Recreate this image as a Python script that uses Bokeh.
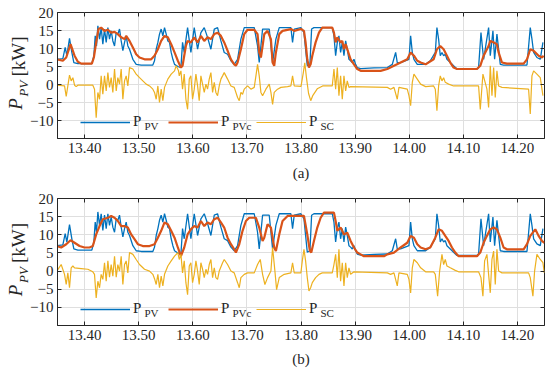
from bokeh.plotting import figure
from bokeh.models import (Range1d, FixedTicker, LinearAxis, Legend, LegendItem, Label,
                          CustomJSTickFormatter, PrintfTickFormatter)
from bokeh.core.properties import value
from bokeh.layouts import column
from bokeh.embed import file_html
from bokeh.resources import INLINE

# ---------------- data ----------------
X_TICKS = [13.40, 13.50, 13.60, 13.70, 13.80, 13.90, 14.00, 14.10, 14.20]
Y_TICKS = [-10, -5, 0, 5, 10, 15, 20]
X_RANGE = (13.35, 14.25)
Y_RANGE = (-15, 20)
SERIES_NAMES = ["P", "P", "P"]
SERIES_SUBS = ["PV", "PVc", "SC"]
PANEL_TAGS = ["(a)", "(b)"]
Y_TITLE = ("P", "PV", "[kW]")

# PV power (same measured profile in both panels): (time, kW)
PV = [(13.3488, 7.0), (13.3599, 7.2), (13.3642, 10.3), (13.3673, 8.0), (13.3722, 12.8), (13.3765, 8.9),
      (13.3802, 6.1), (13.3876, 5.8), (13.4135, 5.8), (13.4172, 8.0), (13.4197, 13.5), (13.4221, 10.7),
      (13.4246, 16.3), (13.4277, 12.6), (13.4307, 15.8), (13.4338, 11.2), (13.4369, 15.4), (13.4400, 11.7),
      (13.4431, 15.8), (13.4461, 12.6), (13.4492, 14.9), (13.4523, 12.1), (13.4554, 10.7), (13.4585, 14.4),
      (13.4615, 14.0), (13.4646, 15.4), (13.4677, 12.1), (13.4708, 9.4), (13.4739, 11.7), (13.4769, 13.5),
      (13.4800, 10.7), (13.4831, 9.8), (13.4893, 7.0), (13.4954, 5.6), (13.5047, 5.4), (13.5262, 5.4),
      (13.5293, 6.6), (13.5324, 9.8), (13.5355, 11.7), (13.5385, 14.0), (13.5416, 15.4), (13.5447, 13.5),
      (13.5478, 15.8), (13.5509, 14.0), (13.5539, 12.1), (13.5570, 11.7), (13.5601, 8.9), (13.5632, 7.0),
      (13.5663, 5.6), (13.5724, 5.0), (13.5781, 4.7), (13.5811, 11.7), (13.5842, 8.9), (13.5904, 15.8),
      (13.5965, 8.9), (13.6027, 15.8), (13.6089, 9.8), (13.6150, 14.4), (13.6212, 15.8), (13.6273, 13.1),
      (13.6335, 9.8), (13.6397, 15.4), (13.6458, 15.8), (13.6520, 12.1), (13.6581, 8.9), (13.6643, 8.4),
      (13.6705, 6.6), (13.6766, 5.6), (13.6828, 7.0), (13.6889, 12.6), (13.6951, 15.8), (13.7136, 15.8),
      (13.7197, 10.7), (13.7228, 6.1), (13.7290, 15.4), (13.7413, 15.4), (13.7475, 6.1), (13.7536, 12.6),
      (13.7598, 15.8), (13.7813, 15.8), (13.7844, 11.7), (13.7875, 15.4), (13.7998, 15.8), (13.8055, 14.4),
      (13.8085, 9.8), (13.8116, 5.2), (13.8165, 5.6), (13.8196, 15.4), (13.8239, 15.8), (13.8578, 15.8),
      (13.8609, 13.5), (13.8640, 8.0), (13.8671, 11.7), (13.8701, 13.5), (13.8732, 8.9), (13.8763, 11.7),
      (13.8794, 8.0), (13.8825, 12.1), (13.8855, 9.8), (13.8886, 7.0), (13.8917, 6.6), (13.8948, 6.1),
      (13.8979, 7.0), (13.9009, 5.6), (13.9040, 4.7), (13.9102, 4.4), (13.9350, 4.6), (13.9595, 4.7),
      (13.9687, 5.6), (13.9749, 8.9), (13.9779, 6.1), (13.9841, 6.1), (13.9995, 7.0), (14.0026, 13.5),
      (14.0057, 8.9), (14.0087, 7.0), (14.0149, 5.6), (14.0303, 5.6), (14.0389, 6.6), (14.0482, 8.9),
      (14.0512, 15.8), (14.0543, 12.6), (14.0574, 8.0), (14.0605, 8.9), (14.0636, 8.0), (14.0666, 8.4),
      (14.0697, 7.0), (14.0759, 6.1), (14.0820, 5.2), (14.0882, 4.3), (14.1252, 4.3), (14.1282, 4.7),
      (14.1326, 14.4), (14.1375, 7.0), (14.1467, 15.8), (14.1498, 8.0), (14.1547, 14.9), (14.1578, 7.0),
      (14.1621, 14.0), (14.1683, 5.6), (14.1744, 5.4), (14.2176, 5.4), (14.2237, 15.8), (14.2268, 12.6),
      (14.2299, 8.9), (14.2360, 7.5), (14.2422, 7.0), (14.2471, 11.7)]

# compensated PV power, panel (a)
PVC_A = [(13.3488, 7.0), (13.3599, 6.6), (13.3661, 7.5), (13.3741, 11.2), (13.3815, 8.0), (13.3876, 6.3),
         (13.3938, 5.8), (13.4135, 5.8), (13.4172, 7.5), (13.4215, 11.7), (13.4258, 15.4), (13.4307, 15.8),
         (13.4369, 14.9), (13.4431, 15.2), (13.4492, 14.4), (13.4554, 14.6), (13.4615, 14.0), (13.4677, 13.1),
         (13.4739, 12.6), (13.4769, 13.5), (13.4831, 12.1), (13.4893, 10.3), (13.4954, 8.4), (13.5016, 7.5),
         (13.5108, 7.0), (13.5231, 7.0), (13.5293, 8.0), (13.5355, 9.8), (13.5416, 12.1), (13.5478, 13.5),
         (13.5539, 13.1), (13.5601, 11.2), (13.5663, 8.9), (13.5724, 6.6), (13.5781, 4.7), (13.5811, 5.2),
         (13.5842, 8.0), (13.5873, 10.7), (13.5904, 12.1), (13.5965, 11.7), (13.6027, 13.1), (13.6089, 11.7),
         (13.6150, 13.5), (13.6212, 12.1), (13.6273, 13.1), (13.6335, 12.6), (13.6397, 14.0), (13.6458, 14.4),
         (13.6520, 13.5), (13.6581, 11.7), (13.6643, 9.4), (13.6705, 7.0), (13.6766, 5.6), (13.6797, 5.2),
         (13.6828, 6.1), (13.6889, 9.8), (13.6951, 14.0), (13.7013, 15.2), (13.7136, 15.2), (13.7197, 14.0),
         (13.7228, 8.9), (13.7259, 7.5), (13.7290, 10.7), (13.7321, 14.0), (13.7382, 14.9), (13.7444, 12.6),
         (13.7475, 6.1), (13.7505, 5.2), (13.7536, 8.9), (13.7598, 14.0), (13.7659, 14.9), (13.7813, 15.4),
         (13.7875, 14.9), (13.7998, 15.4), (13.8055, 14.9), (13.8085, 11.7), (13.8116, 7.0), (13.8147, 4.7),
         (13.8178, 5.6), (13.8209, 8.0), (13.8270, 11.7), (13.8332, 14.4), (13.8393, 15.8), (13.8578, 15.8),
         (13.8609, 14.4), (13.8640, 11.7), (13.8671, 13.1), (13.8732, 11.7), (13.8763, 12.1), (13.8794, 9.8),
         (13.8825, 11.2), (13.8855, 9.8), (13.8886, 8.4), (13.8917, 7.0), (13.8979, 5.6), (13.9040, 4.3),
         (13.9102, 3.8), (13.9471, 3.8), (13.9595, 4.3), (13.9718, 5.2), (13.9841, 6.1), (13.9964, 7.0),
         (14.0026, 8.9), (14.0087, 8.0), (14.0149, 6.6), (14.0211, 6.1), (14.0303, 5.6), (14.0451, 7.0),
         (14.0512, 9.8), (14.0574, 10.7), (14.0636, 9.8), (14.0697, 8.0), (14.0759, 6.1), (14.0820, 4.7),
         (14.0882, 4.3), (14.1252, 4.3), (14.1313, 5.2), (14.1375, 8.0), (14.1467, 10.7), (14.1498, 12.1),
         (14.1560, 11.7), (14.1621, 11.2), (14.1652, 8.9), (14.1714, 6.1), (14.1806, 5.8), (14.2114, 5.8),
         (14.2176, 7.0), (14.2237, 9.8), (14.2299, 9.4), (14.2391, 8.0), (14.2453, 7.5), (14.2484, 8.0)]

# supercapacitor power, panel (a)
SC_A = [(13.3488, -0.2), (13.3630, -0.4), (13.3661, -3.3), (13.3691, -0.4), (13.3722, 2.6), (13.3753, 1.0),
        (13.3784, 1.9), (13.3815, -0.2), (13.3845, -0.6), (13.3876, -0.2), (13.4153, -0.2), (13.4184, -1.3),
        (13.4215, -9.2), (13.4246, -2.2), (13.4277, -4.1), (13.4307, 2.4), (13.4338, -2.7), (13.4369, 2.4),
        (13.4400, -1.8), (13.4431, 3.3), (13.4461, -0.8), (13.4492, 1.9), (13.4523, -2.2), (13.4554, 4.3),
        (13.4585, -1.8), (13.4615, 1.9), (13.4646, 0.1), (13.4677, 4.3), (13.4708, -4.1), (13.4739, 1.0),
        (13.4769, 2.4), (13.4800, -0.4), (13.4831, 4.7), (13.4893, 4.3), (13.4954, 2.9), (13.5016, 1.9),
        (13.5077, 1.0), (13.5139, 0.1), (13.5201, -0.4), (13.5262, -1.3), (13.5293, -2.2), (13.5324, -4.1),
        (13.5355, -0.4), (13.5385, -5.0), (13.5416, -1.3), (13.5447, -4.5), (13.5478, -0.8), (13.5539, 1.5),
        (13.5601, 2.9), (13.5663, 3.8), (13.5693, 5.2), (13.5737, 3.8), (13.5750, 2.4), (13.5781, 3.8),
        (13.5811, -1.3), (13.5842, 2.9), (13.5873, -4.1), (13.5904, -6.9), (13.5935, 1.5), (13.5965, 2.4),
        (13.5996, -4.1), (13.6027, -1.3), (13.6058, 2.9), (13.6089, -0.4), (13.6119, -4.5), (13.6150, 2.4),
        (13.6181, 0.1), (13.6212, -2.2), (13.6243, 0.1), (13.6273, -1.3), (13.6304, 1.5), (13.6335, 3.3),
        (13.6366, -2.2), (13.6397, 0.6), (13.6427, -2.2), (13.6458, -3.1), (13.6489, -0.4), (13.6520, 1.5),
        (13.6551, 2.4), (13.6581, 3.3), (13.6643, 1.5), (13.6705, -0.4), (13.6766, -0.8), (13.6828, -3.6),
        (13.6859, -4.5), (13.6889, -2.2), (13.6920, -2.7), (13.6951, -1.3), (13.7013, -0.4), (13.7074, -1.3),
        (13.7136, -0.8), (13.7167, 2.4), (13.7197, 5.6), (13.7228, 2.4), (13.7259, -2.2), (13.7290, -3.1),
        (13.7351, -1.3), (13.7413, 0.1), (13.7444, -2.2), (13.7475, -5.5), (13.7505, -2.2), (13.7567, -1.3),
        (13.7629, -0.8), (13.7752, -0.6), (13.7813, -0.4), (13.7844, 2.4), (13.7875, -0.4), (13.8000, -0.5),
        (13.8040, 3.0), (13.8070, 6.0), (13.8100, 2.0), (13.8140, -2.5), (13.8180, -4.5), (13.8220, -3.0),
        (13.8300, -1.2), (13.8400, -0.4), (13.8578, -0.4), (13.8609, 4.3), (13.8640, -1.3), (13.8671, 4.7),
        (13.8701, -3.1), (13.8732, 2.4), (13.8763, -4.1), (13.8794, 2.4), (13.8825, -1.8), (13.8855, 1.0),
        (13.8886, -0.8), (13.8917, -0.6), (13.9595, -0.8), (13.9656, -1.3), (13.9718, -0.8), (13.9779, -4.1),
        (13.9810, -0.8), (13.9964, -1.3), (13.9995, -3.1), (14.0026, -5.9), (14.0057, 0.6), (14.0087, 2.9),
        (14.0149, 1.5), (14.0211, 0.1), (14.0303, -0.6), (14.0451, -0.4), (14.0482, -1.3), (14.0512, -7.3),
        (14.0543, -0.4), (14.0574, 2.4), (14.0605, 1.0), (14.0636, 1.9), (14.0666, 0.6), (14.0728, 0.1),
        (14.0820, -0.4), (14.1282, -0.4), (14.1313, -6.9), (14.1362, 2.9), (14.1436, -1.3), (14.1467, -6.4),
        (14.1498, 5.2), (14.1529, -3.1), (14.1560, 4.7), (14.1590, -3.6), (14.1621, 3.8), (14.1652, -0.4),
        (14.1714, -0.8), (14.2206, -1.3), (14.2237, -8.2), (14.2268, 2.4), (14.2299, 3.8), (14.2360, 2.9),
        (14.2422, 1.9), (14.2471, -3.1)]

# compensated PV power, panel (b)
PVC_B = [(13.3488, 6.9), (13.3568, 6.5), (13.3661, 7.4), (13.3741, 8.5), (13.3815, 7.8), (13.3907, 6.9),
         (13.3999, 6.5), (13.4092, 6.5), (13.4153, 6.9), (13.4215, 10.1), (13.4277, 12.4), (13.4338, 14.3),
         (13.4431, 14.7), (13.4492, 15.2), (13.4554, 14.7), (13.4615, 13.8), (13.4677, 12.4), (13.4739, 12.4),
         (13.4800, 12.0), (13.4862, 10.1), (13.4923, 8.8), (13.4985, 7.4), (13.5077, 6.9), (13.5201, 6.9),
         (13.5293, 7.4), (13.5355, 9.2), (13.5416, 11.1), (13.5478, 13.4), (13.5539, 12.9), (13.5601, 11.1),
         (13.5663, 9.2), (13.5724, 6.5), (13.5781, 4.1), (13.5842, 6.5), (13.5904, 10.1), (13.5965, 11.5),
         (13.6027, 12.4), (13.6089, 12.0), (13.6150, 13.8), (13.6212, 12.4), (13.6273, 13.4), (13.6335, 12.9),
         (13.6397, 14.3), (13.6458, 14.7), (13.6520, 13.4), (13.6581, 12.0), (13.6643, 9.2), (13.6705, 7.4),
         (13.6766, 6.0), (13.6797, 5.1), (13.6859, 7.4), (13.6920, 11.1), (13.6982, 13.8), (13.7043, 14.7),
         (13.7167, 14.7), (13.7228, 12.0), (13.7290, 8.3), (13.7321, 9.2), (13.7382, 12.9), (13.7444, 12.0),
         (13.7505, 6.5), (13.7536, 5.5), (13.7598, 10.1), (13.7659, 13.8), (13.7752, 15.2), (13.7998, 15.2),
         (13.8055, 15.2), (13.8116, 10.1), (13.8165, 5.5), (13.8190, 5.1), (13.8239, 8.3), (13.8301, 12.0),
         (13.8363, 14.7), (13.8424, 16.1), (13.8609, 16.1), (13.8640, 13.8), (13.8671, 11.1), (13.8732, 12.0),
         (13.8794, 10.1), (13.8855, 10.6), (13.8917, 8.3), (13.8979, 6.5), (13.9040, 5.1), (13.9102, 4.6),
         (13.9163, 4.1), (13.9533, 4.1), (13.9595, 4.6), (13.9718, 5.1), (13.9841, 6.5), (13.9964, 7.8),
         (14.0026, 9.7), (14.0087, 9.2), (14.0149, 7.4), (14.0211, 6.5), (14.0303, 6.0), (14.0389, 6.5),
         (14.0482, 9.2), (14.0543, 11.5), (14.0605, 11.1), (14.0666, 9.7), (14.0728, 8.3), (14.0790, 6.5),
         (14.0851, 5.1), (14.0913, 4.1), (14.1252, 4.1), (14.1313, 5.1), (14.1375, 7.8), (14.1436, 9.7),
         (14.1498, 11.5), (14.1560, 12.0), (14.1621, 11.5), (14.1683, 9.2), (14.1744, 6.5), (14.1806, 6.0),
         (14.2114, 6.0), (14.2176, 7.4), (14.2237, 9.7), (14.2330, 11.5), (14.2391, 9.7), (14.2453, 8.3),
         (14.2496, 7.8)]

# supercapacitor power, panel (b)
SC_B = [(13.3488, 0.0), (13.3568, 1.8), (13.3630, -0.9), (13.3661, -3.7), (13.3691, -0.5), (13.3722, -4.6),
        (13.3753, 0.9), (13.3784, 1.4), (13.3815, 0.9), (13.3938, 0.7), (13.4061, 0.5), (13.4153, -0.2),
        (13.4184, -0.9), (13.4215, -7.4), (13.4246, -2.8), (13.4277, -4.6), (13.4307, -0.9), (13.4338, -2.3),
        (13.4369, 2.3), (13.4400, -2.8), (13.4431, 2.8), (13.4461, -1.7), (13.4492, 1.8), (13.4523, -1.4),
        (13.4554, 4.1), (13.4585, -1.7), (13.4615, 1.8), (13.4646, 0.0), (13.4677, 4.1), (13.4708, -3.7),
        (13.4739, 1.8), (13.4769, 2.8), (13.4800, -0.5), (13.4831, 5.1), (13.4893, 4.6), (13.4954, 3.2),
        (13.5016, 1.8), (13.5108, 0.5), (13.5201, 0.0), (13.5262, -0.9), (13.5293, -2.1), (13.5324, -3.7),
        (13.5355, -0.9), (13.5385, -4.6), (13.5416, -1.4), (13.5447, -4.1), (13.5478, -0.9), (13.5539, 1.4),
        (13.5601, 2.8), (13.5663, 4.1), (13.5724, 5.1), (13.5750, 3.2), (13.5781, 4.6), (13.5811, -0.5),
        (13.5842, 2.8), (13.5873, -3.2), (13.5904, -6.5), (13.5935, 1.4), (13.5965, 2.3), (13.5996, -3.2),
        (13.6027, -0.9), (13.6058, 2.8), (13.6089, 0.0), (13.6119, -3.7), (13.6150, 2.3), (13.6181, 0.5),
        (13.6212, -1.8), (13.6243, 0.5), (13.6273, -0.9), (13.6304, 1.8), (13.6335, 3.2), (13.6366, -1.8),
        (13.6397, 0.9), (13.6427, -1.8), (13.6458, -2.3), (13.6489, 0.0), (13.6551, 2.3), (13.6581, 3.2),
        (13.6643, 1.8), (13.6705, 0.0), (13.6766, -0.5), (13.6828, -3.2), (13.6859, -4.6), (13.6889, -1.8),
        (13.6951, -0.9), (13.7013, -0.5), (13.7136, -0.5), (13.7197, 1.8), (13.7247, 3.2), (13.7290, -0.9),
        (13.7333, -3.7), (13.7382, -1.8), (13.7444, 0.0), (13.7475, 6.5), (13.7518, 0.0), (13.7549, -5.1),
        (13.7598, -1.8), (13.7690, -0.9), (13.7813, -0.5), (13.7844, 2.3), (13.7875, -0.5), (13.7998, -0.5),
        (13.8024, 2.8), (13.8055, 6.0), (13.8085, 2.8), (13.8116, -1.8), (13.8147, -5.5), (13.8178, -4.6),
        (13.8209, -3.2), (13.8270, -1.8), (13.8332, -0.9), (13.8393, -0.5), (13.8578, -0.5), (13.8609, 1.8),
        (13.8640, 4.6), (13.8671, -1.8), (13.8701, 6.0), (13.8732, -2.8), (13.8763, 2.3), (13.8794, -4.1),
        (13.8825, 2.3), (13.8855, -1.8), (13.8886, 0.9), (13.8917, -0.9), (13.8979, -0.2), (13.9595, -0.5),
        (13.9656, -0.9), (13.9718, -0.5), (13.9779, -4.1), (13.9810, -0.5), (13.9964, -0.9), (13.9995, -2.3),
        (14.0026, -6.0), (14.0057, 0.9), (14.0087, 3.2), (14.0149, 2.3), (14.0211, 0.9), (14.0303, -0.2),
        (14.0451, -0.2), (14.0482, -0.9), (14.0525, -6.9), (14.0562, 0.0), (14.0605, 4.6), (14.0636, 1.8),
        (14.0666, 3.2), (14.0697, 1.4), (14.0759, 0.9), (14.0851, 0.2), (14.0913, -0.2), (14.1282, -0.2),
        (14.1326, -1.8), (14.1362, -6.9), (14.1393, 2.8), (14.1436, 4.6), (14.1467, -0.9), (14.1498, -6.0),
        (14.1529, 3.2), (14.1560, 5.5), (14.1590, -3.7), (14.1621, 6.0), (14.1652, 0.0), (14.1714, -0.5),
        (14.2206, -0.5), (14.2237, -1.8), (14.2286, -6.9), (14.2317, 0.0), (14.2360, 4.6), (14.2422, 3.2),
        (14.2471, 2.3), (14.2496, -0.5)]

# ---------------- styling ----------------
FONT = "Liberation Serif"
DARK = "#262626"
GRID = "#dfdfdf"
BLUE = "#0072BD"
ORANGE = "#D95319"
YELLOW = "#EDB120"
EM = "\u2003"   # em space, used to slide parts of the axis title along the axis
FIG_W = 550
FRAME_TOP = 12


def style_axis(ax, ticker, labels=True):
    ax.ticker = FixedTicker(ticks=ticker)
    ax.major_tick_in = 4
    ax.major_tick_out = 0
    ax.minor_tick_in = 0
    ax.minor_tick_out = 0
    ax.major_tick_line_color = DARK
    ax.axis_line_color = DARK
    if labels:
        ax.major_label_text_font = FONT
        ax.major_label_text_font_size = "15px"
        ax.major_label_text_color = DARK
        ax.major_label_standoff = 4
    else:
        ax.formatter = CustomJSTickFormatter(code="return ''")
        ax.major_label_text_font_size = "0px"
        ax.major_label_standoff = 0


def title_axis(text, size, style, standoff):
    """An extra left axis that shows only its (rotated) axis label."""
    ax = LinearAxis(ticker=FixedTicker(ticks=[]), axis_line_color=None,
                    major_tick_line_color=None, minor_tick_line_color=None,
                    major_tick_in=0, major_tick_out=0, minor_tick_in=0, minor_tick_out=0,
                    major_label_standoff=0, major_label_text_font_size="0px",
                    formatter=CustomJSTickFormatter(code="return ''"))
    ax.axis_label = text
    ax.axis_label_text_font = FONT
    ax.axis_label_text_font_size = size
    ax.axis_label_text_font_style = style
    ax.axis_label_text_color = DARK
    ax.axis_label_standoff = standoff
    return ax


def panel(pvc, sc, tag, height, bottom, tag_standoff):
    p = figure(width=FIG_W, height=height, output_backend="svg", toolbar_location=None,
               x_range=Range1d(*X_RANGE), y_range=Range1d(*Y_RANGE),
               min_border_left=57, min_border_right=6, min_border_top=FRAME_TOP,
               min_border_bottom=bottom,
               background_fill_color="white", border_fill_color="white")
    p.outline_line_color = DARK
    p.outline_line_width = 1

    r_pv = p.line([t for t, _ in PV], [v for _, v in PV], color=BLUE, line_width=1.3)
    r_pvc = p.line([t for t, _ in pvc], [v for _, v in pvc], color=ORANGE, line_width=2.2)
    r_sc = p.line([t for t, _ in sc], [v for _, v in sc], color=YELLOW, line_width=1.2)

    style_axis(p.xaxis[0], X_TICKS)
    p.xaxis[0].formatter = PrintfTickFormatter(format="%.2f")
    p.xaxis[0].axis_label = tag
    p.xaxis[0].axis_label_text_font = FONT
    p.xaxis[0].axis_label_text_font_size = "15px"
    p.xaxis[0].axis_label_text_font_style = "normal"
    p.xaxis[0].axis_label_text_color = DARK
    p.xaxis[0].axis_label_standoff = tag_standoff
    style_axis(p.yaxis[0], Y_TICKS)
    p.yaxis[0].major_label_overrides = {t: ("\u2212" + str(abs(t)) if t < 0 else str(t)) for t in Y_TICKS}

    # rotated y title  P_PV [kW], built from three label-only axes
    p.add_layout(title_axis(Y_TITLE[0] + EM * 3, "19px", "italic", 2), "left")
    p.add_layout(title_axis(EM * 2 + Y_TITLE[2], "19px", "normal", -27), "left")
    p.add_layout(title_axis(Y_TITLE[1] + EM * 2, "13px", "italic", -29), "left")

    ax_r = LinearAxis()
    style_axis(ax_r, Y_TICKS, labels=False)
    ax_r.axis_line_color = None
    p.add_layout(ax_r, "right")
    ax_t = LinearAxis()
    style_axis(ax_t, X_TICKS, labels=False)
    ax_t.axis_line_color = None
    p.add_layout(ax_t, "above")

    p.xgrid.ticker = FixedTicker(ticks=X_TICKS)
    p.ygrid.ticker = FixedTicker(ticks=Y_TICKS)
    for g in (p.xgrid[0], p.ygrid[0]):
        g.grid_line_color = GRID
        g.grid_line_width = 1

    legend = Legend(items=[LegendItem(label=value(n), renderers=[r])
                           for n, r in zip(SERIES_NAMES, [r_pv, r_pvc, r_sc])],
                    orientation="horizontal", location=(23, 8),
                    glyph_width=50, glyph_height=14, label_width=30, label_height=14,
                    label_standoff=3, spacing=5, padding=0, margin=0,
                    background_fill_alpha=0, border_line_color=None,
                    label_text_font=FONT, label_text_font_size="15px", label_text_color=DARK)
    p.add_layout(legend)
    for i, sub in enumerate(SERIES_SUBS):
        p.add_layout(Label(x=23 + 88 * i + 64, y=12.5, x_units="screen", y_units="screen",
                           text=sub, text_font=FONT, text_font_size="11px", text_color=DARK,
                           text_baseline="middle", text_align="left"))
    return p


p1 = panel(PVC_A, SC_A, PANEL_TAGS[0], 186, 48, 9)
p2 = panel(PVC_B, SC_B, PANEL_TAGS[1], 185, 46, 8)
layout = column(p1, p2, spacing=0)

open("out.html", "w").write(file_html(layout, INLINE))
